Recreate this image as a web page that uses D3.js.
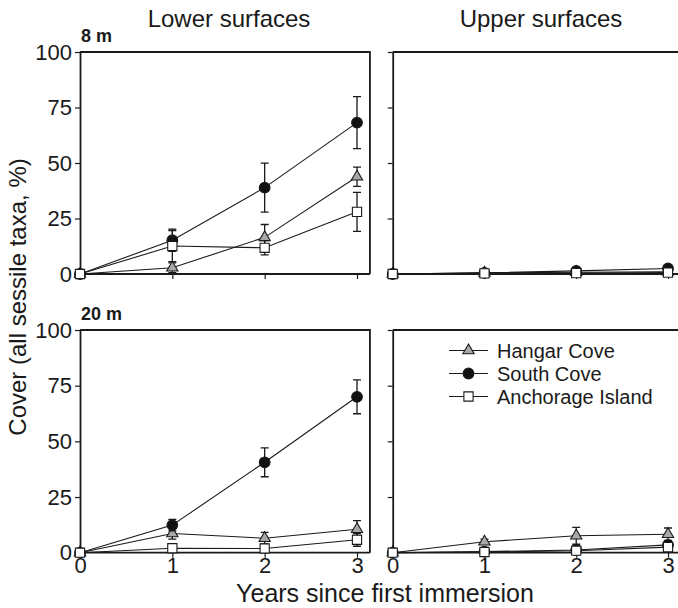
<!DOCTYPE html>
<html>
<head>
<meta charset="utf-8">
<script src="https://cdn.jsdelivr.net/npm/d3@7"></script>
<style>
  body { margin: 0; background: #fff; }
  svg text { font-family: "Liberation Sans", Arial, Helvetica, sans-serif; fill: #1a1a1a; }
</style>
</head>
<body>
<div id="chart"></div>
<script>
var w = 678, h = 608;

// data
var years = [0, 1, 2, 3];
var sites = ["Hangar Cove", "South Cove", "Anchorage Island"];
var yTicks = [0, 25, 50, 75, 100];

// 8 m, lower surfaces
var lower8 = [[0, 2.8, 16.5, 43.8], [0, 15.2, 38.9, 68.2], [0, 12.6, 11.8, 28]];
var lower8Err = [[0, 2.2, 5.8, 4.3], [0, 5, 11, 11.7], [0, 7, 3.2, 8.8]];
// 8 m, upper surfaces
var upper8 = [[0, 0.5, 0.8, 1.0], [0, 0.5, 1.4, 2.5], [0, 0.3, 0.4, 0.6]];
var upper8Err = [[0, 0.3, 0.5, 0.5], [0, 0.3, 0.5, 0.6], [0, 0, 0, 0]];
// 20 m, lower surfaces
var lower20 = [[0, 8.6, 6.5, 10.5], [0, 12.4, 40.6, 70], [0, 2, 1.9, 5.8]];
var lower20Err = [[0, 2.5, 2.6, 3.9], [0, 2.6, 6.5, 7.6], [0, 0.7, 0.7, 2.9]];
// 20 m, upper surfaces
var upper20 = [[0, 4.9, 7.6, 8.3], [0, 0.5, 1.2, 3.5], [0, 0.3, 0.9, 2.5]];
var upper20Err = [[0, 1.2, 3.8, 2.8], [0, 0.3, 0.5, 1.2], [0, 0.2, 0.5, 1]];

var ink = "#1a1a1a";

var svg = d3.select("#chart").append("svg")
    .attr("width", w).attr("height", h);

// marker shapes per site
var markers = [
    { type: d3.symbolTriangle, size: 55, fill: "#a8a8a8" },
    { type: d3.symbolCircle, size: 90, fill: "#111" },
    { type: d3.symbolSquare, size: 85, fill: "#fff" }
];

var cols = [{ x0: 80, x3: 357 }, { x0: 392.7, x3: 668 }];
var rows = [{ top: 52, bottom: 274 }, { top: 330, bottom: 552.7 }];

var panels = [
    { col: 0, row: 0, vals: lower8, errs: lower8Err, label: "8 m" },
    { col: 1, row: 0, vals: upper8, errs: upper8Err },
    { col: 0, row: 1, vals: lower20, errs: lower20Err, label: "20 m", xLabels: true },
    { col: 1, row: 1, vals: upper20, errs: upper20Err, xLabels: true, legend: true }
];

panels.forEach(function (p) {
    var c = cols[p.col], r = rows[p.row];
    var x = d3.scaleLinear().domain([0, 3]).range([c.x0, c.x3]);
    var y = d3.scaleLinear().domain([0, 100]).range([r.bottom, r.top]);
    var g = svg.append("g");
    var right = x(3.14);

    // frame: top and right
    g.append("path")
        .attr("d", "M" + x(0) + "," + y(100) + "H" + right + "V" + y(0))
        .attr("fill", "none").attr("stroke", ink).attr("stroke-width", 1.8);

    // y axis
    var yAxis = d3.axisLeft(y).tickValues(yTicks).tickSize(5).tickSizeOuter(0)
        .tickFormat(p.col == 0 ? d3.format("d") : "");
    var ya = g.append("g").attr("transform", "translate(" + x(0) + ",0)").call(yAxis);
    ya.select(".domain").attr("stroke", ink).attr("stroke-width", 1.8);
    ya.selectAll(".tick line").attr("stroke", ink).attr("stroke-width", 1.2);
    ya.selectAll(".tick text").attr("font-size", 22).attr("x", -8)
        .style("font-family", "Liberation Sans, Arial, sans-serif").attr("fill", ink);

    // x axis
    var xAxis = d3.axisBottom(x).tickValues(years).tickSize(5).tickSizeOuter(0)
        .tickFormat(p.xLabels ? d3.format("d") : "");
    var xa = g.append("g").attr("transform", "translate(0," + y(0) + ")").call(xAxis);
    xa.select(".domain").attr("d", "M" + x(0) + ",0H" + right)
        .attr("stroke", ink).attr("stroke-width", 1.8);
    xa.selectAll(".tick line").attr("stroke", ink).attr("stroke-width", 1.2);
    xa.selectAll(".tick text").attr("font-size", 22).attr("y", 5)
        .style("font-family", "Liberation Sans, Arial, sans-serif").attr("fill", ink);

    if (p.label) {
        g.append("text").attr("x", x(0) + 1).attr("y", y(100) - 10)
            .attr("font-size", 18).attr("font-weight", "bold").text(p.label);
    }

    var line = d3.line().x(function (d, i) { return x(years[i]); }).y(function (d) { return y(d); });

    // lines
    p.vals.forEach(function (v) {
        g.append("path").attr("d", line(v))
            .attr("fill", "none").attr("stroke", ink).attr("stroke-width", 1.1);
    });

    // error bars and markers
    p.vals.forEach(function (v, s) {
        var eg = g.append("g");
        v.forEach(function (val, i) {
            var e = p.errs[s][i];
            if (e <= 0) return;
            var cx = x(years[i]);
            eg.append("path")
                .attr("d", "M" + cx + "," + y(val + e) + "V" + y(val - e) +
                    "M" + (cx - 4) + "," + y(val + e) + "h8" +
                    "M" + (cx - 4) + "," + y(val - e) + "h8")
                .attr("fill", "none").attr("stroke", ink).attr("stroke-width", 1.3);
        });
        g.selectAll(null).data(v).enter().append("path")
            .attr("d", d3.symbol().type(markers[s].type).size(markers[s].size))
            .attr("transform", function (d, i) { return "translate(" + x(years[i]) + "," + y(d) + ")"; })
            .attr("fill", markers[s].fill).attr("stroke", ink).attr("stroke-width", 1.1);
    });

    if (p.legend) {
        var lg = g.append("g");
        sites.forEach(function (name, s) {
            var ly = y(90.8) + s * 23;
            lg.append("line").attr("x1", 449).attr("x2", 488).attr("y1", ly).attr("y2", ly)
                .attr("stroke", ink).attr("stroke-width", 1.1);
            lg.append("path")
                .attr("d", d3.symbol().type(markers[s].type).size(markers[s].size))
                .attr("transform", "translate(468.5," + ly + ")")
                .attr("fill", markers[s].fill).attr("stroke", ink).attr("stroke-width", 1.1);
            lg.append("text").attr("x", 497).attr("y", ly).attr("dy", "0.36em")
                .attr("font-size", 20).text(name);
        });
    }
});

// column titles
svg.append("text").attr("x", 229).attr("y", 27).attr("text-anchor", "middle")
    .attr("font-size", 24).text("Lower surfaces");
svg.append("text").attr("x", 541).attr("y", 27).attr("text-anchor", "middle")
    .attr("font-size", 24).text("Upper surfaces");

// axis titles
svg.append("text").attr("x", 385).attr("y", 602).attr("text-anchor", "middle")
    .attr("font-size", 25).text("Years since first immersion");
svg.append("text").attr("transform", "translate(17,297) rotate(-90)")
    .attr("text-anchor", "middle").attr("dy", "0.36em")
    .attr("font-size", 24).text("Cover (all sessile taxa, %)");
</script>
</body>
</html>
